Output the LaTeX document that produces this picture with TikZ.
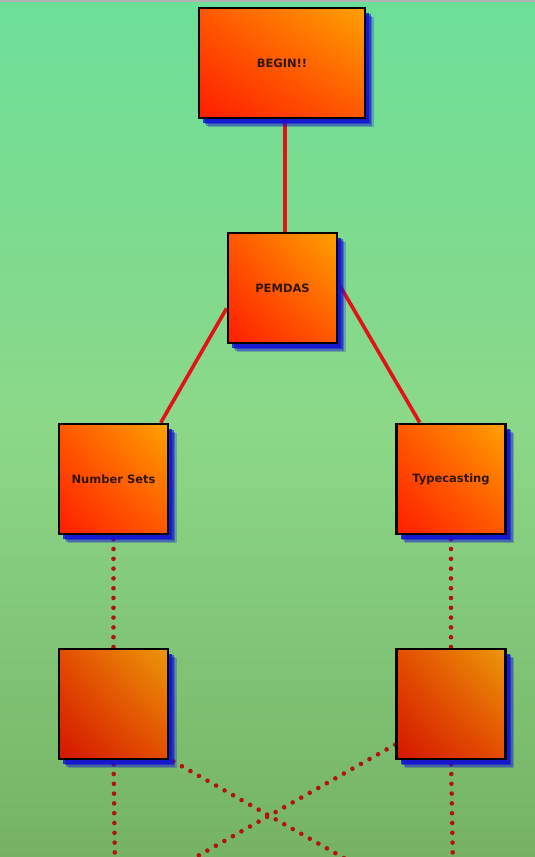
\documentclass[tikz,border=0pt]{standalone}
\usepackage{fontspec}
\setmainfont{DejaVu Sans}
\usetikzlibrary{calc,shadings}
\pgfdeclarelayer{bg}
\pgfdeclarelayer{links}
\pgfsetlayers{bg,links,main}
\definecolor{bgtop}{RGB}{108,222,152}
\definecolor{bgmid}{RGB}{140,216,136}
\definecolor{bgbot}{RGB}{118,178,100}
\definecolor{boxlow}{RGB}{255,30,0}
\definecolor{boxmid}{RGB}{255,88,0}
\definecolor{boxhigh}{RGB}{255,162,0}
\definecolor{dboxlow}{RGB}{212,22,0}
\definecolor{dboxmid}{RGB}{228,78,0}
\definecolor{dboxhigh}{RGB}{236,152,10}
\definecolor{linkred}{RGB}{228,18,22}
\definecolor{dotred}{RGB}{178,18,18}
\definecolor{shadowblue}{RGB}{18,18,210}
\definecolor{txt}{RGB}{50,22,10}
\tikzset{
  shadeA/.style={preaction={fill=shadowblue,opacity=0.25,transform canvas={shift={(8.5pt,-9pt)}}}},
  shadeB/.style={preaction={fill=shadowblue,opacity=0.35,transform canvas={shift={(7pt,-7.5pt)}}}},
  shadeC/.style={preaction={fill=shadowblue,opacity=0.55,transform canvas={shift={(5.5pt,-6pt)}}}},
  shadeD/.style={preaction={fill=shadowblue,opacity=0.8,transform canvas={shift={(4pt,-4.5pt)}}}},
  topicbox/.style={rectangle, draw=black, line width=2.8pt, shadeA, shadeB, shadeC, shadeD,
    lower left=boxlow, upper right=boxhigh, upper left=boxmid, lower right=boxmid,
    minimum width=109pt, minimum height=110pt, inner sep=0pt,
    font=\fontsize{11.5}{13}\selectfont\bfseries, text=txt},
  darkbox/.style={topicbox, lower left=dboxlow, upper right=dboxhigh, upper left=dboxmid, lower right=dboxmid},
  solidlink/.style={draw=linkred, line width=3.6pt},
  dotlink/.style={draw=dotred, line width=4.6pt, line cap=round, dash pattern=on 0pt off 9.8pt}
}
\begin{document}
\begin{tikzpicture}[x=1pt,y=-1pt]
\useasboundingbox (0,0) rectangle (535,857);
\begin{pgfonlayer}{bg}
\shade[top color=bgtop, bottom color=bgbot, middle color=bgmid] (0,0) rectangle (535,857);
\fill[gray!60] (0,0) rectangle (535,2);
\end{pgfonlayer}
% nodes
\node[topicbox, minimum width=166pt] (begin) at (282,63) {BEGIN!!};
\node[topicbox] (pemdas) at (282.5,288) {PEMDAS};
\node[topicbox] (numsets) at (113.5,479) {Number Sets};
\node[topicbox] (typecast) at (451,479) {Typecasting};
\node[darkbox] (leftbox) at (113.5,704) {};
\node[darkbox] (rightbox) at (451,704) {};
\coordinate (leftend) at (115,870);
\coordinate (rightend) at (453,870);
\coordinate (crossA) at (358,866);
\coordinate (crossB) at (180,866);
% connectors
\begin{pgfonlayer}{links}
\begin{scope}
\clip (0,0) rectangle (535,857);
\path[solidlink] ([xshift=3pt]begin.south) -- ([xshift=2.5pt]pemdas.north);
\path[solidlink] (pemdas.200) -- (numsets.50);
\path[solidlink] (pemdas.5) -- (typecast.119);
\path[dotlink] ([yshift=6pt]numsets.south) -- ([yshift=-4pt]leftbox.north);
\path[dotlink] ([yshift=6pt]typecast.south) -- ([yshift=-4pt]rightbox.north);
\path[dotlink] ([yshift=6pt]leftbox.south) -- (leftend);
\path[dotlink] ([yshift=6pt]rightbox.south) -- (rightend);
\path[dotlink] ([shift={(4pt,-1pt)}]leftbox.south east) -- (crossA);
\path[dotlink] (rightbox.216) -- (crossB);
\end{scope}
\end{pgfonlayer}
\end{tikzpicture}
\end{document}
